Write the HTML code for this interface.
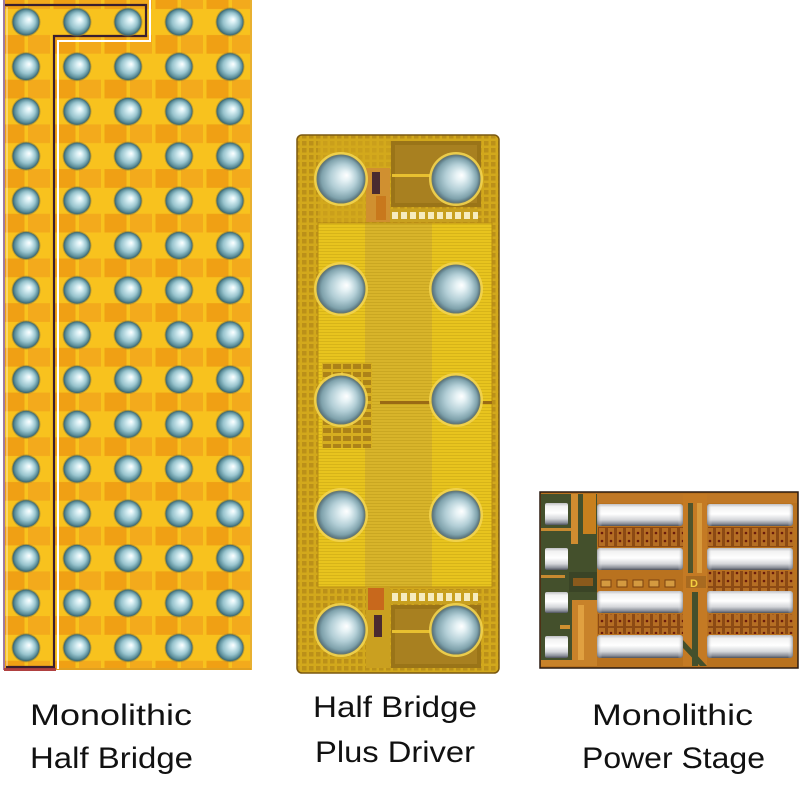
<!DOCTYPE html>
<html><head><meta charset="utf-8"><style>
html,body{margin:0;padding:0;background:#fff;}
svg{display:block;}
</style></head><body>
<svg width="800" height="803" viewBox="0 0 800 803" xmlns="http://www.w3.org/2000/svg">
<defs>
 <radialGradient id="bumpL" cx="0.5" cy="0.5" r="0.5" fx="0.62" fy="0.4">
  <stop offset="0" stop-color="#ffffff"/>
  <stop offset="0.22" stop-color="#d8eff4"/>
  <stop offset="0.6" stop-color="#98c4ce"/>
  <stop offset="0.85" stop-color="#5e909c"/>
  <stop offset="1" stop-color="#35606a"/>
 </radialGradient>
 <radialGradient id="bumpM" cx="0.5" cy="0.5" r="0.5" fx="0.62" fy="0.42">
  <stop offset="0" stop-color="#ffffff"/>
  <stop offset="0.2" stop-color="#e6f2f5"/>
  <stop offset="0.55" stop-color="#b2ced6"/>
  <stop offset="0.85" stop-color="#7fa2ac"/>
  <stop offset="1" stop-color="#56707a"/>
 </radialGradient>
 <pattern id="bumpsL" patternUnits="userSpaceOnUse" x="0.5" y="-0.35" width="51" height="44.7">
   <circle cx="25.5" cy="22.35" r="14.5" fill="#8a7a3a" opacity="0.55"/>
   <circle cx="25.5" cy="22.35" r="13.5" fill="url(#bumpL)"/>
 </pattern>
 <pattern id="bandL" patternUnits="userSpaceOnUse" x="0.5" y="22" width="51" height="44.7">
   <rect x="2" y="13" width="22" height="18.7" fill="#f0a014"/>
   <rect x="27.5" y="13" width="22" height="18.7" fill="#f3aa1c"/>
 </pattern>
 <pattern id="frameM" patternUnits="userSpaceOnUse" x="0" y="0" width="7" height="7">
   <rect width="7" height="7" fill="#d2a81c"/>
   <rect x="1" y="1" width="4.5" height="4.5" fill="#a87c16" opacity="0.55"/>
 </pattern>
 <pattern id="linesM" patternUnits="userSpaceOnUse" x="0" y="0" width="6" height="3">
   <rect y="2" width="6" height="1" fill="#8a6a00" opacity="0.18"/>
 </pattern>
 <pattern id="gridM" patternUnits="userSpaceOnUse" x="322" y="363" width="10" height="8">
   <rect width="10" height="8" fill="#d6ae20"/>
   <rect x="1" y="1" width="8" height="5" fill="#9a7014" opacity="0.7"/>
 </pattern>
 <linearGradient id="bar" x1="0" y1="0" x2="0" y2="1">
  <stop offset="0" stop-color="#c0c0c4"/>
  <stop offset="0.15" stop-color="#f2f2f2"/>
  <stop offset="0.45" stop-color="#ffffff"/>
  <stop offset="0.72" stop-color="#d4d6da"/>
  <stop offset="0.9" stop-color="#8a8e98"/>
  <stop offset="1" stop-color="#4e525c"/>
 </linearGradient>
 <linearGradient id="barH" x1="0" y1="0" x2="1" y2="0">
  <stop offset="0" stop-color="#6a6e78" stop-opacity="0.6"/>
  <stop offset="0.06" stop-color="#ffffff" stop-opacity="0"/>
  <stop offset="0.94" stop-color="#ffffff" stop-opacity="0"/>
  <stop offset="1" stop-color="#6a6e78" stop-opacity="0.6"/>
 </linearGradient>
 <pattern id="fing" patternUnits="userSpaceOnUse" x="598" y="527" width="9" height="20">
   <rect width="9" height="20" fill="#8c4a14"/>
   <rect x="1" y="1" width="6" height="18" fill="#b56e24"/>
   <circle cx="4" cy="6" r="1.3" fill="#6a1a0c"/>
   <circle cx="4" cy="14" r="1.3" fill="#6a1a0c"/>
 </pattern>
</defs>

<rect width="800" height="803" fill="#ffffff"/>

<!-- ============ LEFT CHIP ============ -->
<rect x="4" y="0" width="247" height="670" fill="#f8c21e"/>
<rect x="4" y="0" width="247" height="670" fill="url(#bandL)"/>
<!-- edges -->
<rect x="3" y="0" width="2" height="670" fill="#a07aa0"/>
<rect x="250" y="0" width="2" height="670" fill="#e8b030"/>
<rect x="4" y="668" width="52" height="3" fill="#b04040"/>
<rect x="56" y="668" width="195" height="2" fill="#e0a020"/>
<!-- dark L-shaped separator -->
<path d="M5 5 H146 V36 H54 V667 H6" fill="none" stroke="#3a1e2e" stroke-width="2.2"/>
<path d="M58 669 V41 H150 V0" fill="none" stroke="#ffffff" stroke-width="2"/>
<path d="M7 7 V666" fill="none" stroke="#ffffff" stroke-width="1" opacity="0.7"/>
<!-- bumps -->
<rect x="0" y="0" width="252" height="672" fill="url(#bumpsL)"/>

<!-- ============ MIDDLE CHIP ============ -->
<rect x="297" y="135" width="202" height="538" rx="5" fill="url(#frameM)" stroke="#7a5810" stroke-width="1.5"/>
<!-- inner panel -->
<rect x="318" y="223" width="174" height="364" fill="#e8c41e"/>
<rect x="365" y="223" width="67" height="364" fill="#d8b42a"/>
<rect x="318" y="223" width="174" height="364" fill="url(#linesM)"/>
<rect x="318" y="223" width="174" height="364" fill="none" stroke="#b88c14" stroke-width="1"/>
<!-- top section -->
<rect x="318" y="140" width="72" height="82" fill="#d4aa1c" opacity="0.6"/>
<rect x="391" y="141" width="90" height="66" fill="#9a7418"/>
<rect x="395" y="145" width="82" height="58" fill="#a88020"/>
<rect x="392" y="174" width="38" height="3" fill="#e8c030"/>
<rect x="366" y="168" width="24" height="54" fill="#d09030"/>
<rect x="372" y="172" width="8" height="22" fill="#4a2a30"/>
<rect x="376" y="196" width="10" height="24" fill="#c8781c"/>
<rect x="390" y="209" width="88" height="13" fill="#c8a020"/>
<g fill="#f6ecc0">
 <rect x="392" y="212" width="6" height="7"/><rect x="401" y="212" width="6" height="7"/>
 <rect x="410" y="212" width="6" height="7"/><rect x="419" y="212" width="6" height="7"/>
 <rect x="428" y="212" width="6" height="7"/><rect x="437" y="212" width="6" height="7"/>
 <rect x="446" y="212" width="6" height="7"/><rect x="455" y="212" width="6" height="7"/>
 <rect x="464" y="212" width="6" height="7"/><rect x="473" y="212" width="5" height="7"/>
</g>
<!-- bottom section -->
<rect x="391" y="605" width="90" height="63" fill="#9a7418"/>
<rect x="395" y="609" width="82" height="55" fill="#a88020"/>
<rect x="392" y="630" width="38" height="3" fill="#e8c030"/>
<rect x="366" y="587" width="24" height="81" fill="#caa020"/>
<rect x="368" y="588" width="16" height="22" fill="#c8681c"/>
<rect x="374" y="615" width="8" height="22" fill="#4a2a30"/>
<rect x="390" y="590" width="88" height="14" fill="#c8a020"/>
<g fill="#f6ecc0">
 <rect x="392" y="593" width="6" height="8"/><rect x="401" y="593" width="6" height="8"/>
 <rect x="410" y="593" width="6" height="8"/><rect x="419" y="593" width="6" height="8"/>
 <rect x="428" y="593" width="6" height="8"/><rect x="437" y="593" width="6" height="8"/>
 <rect x="446" y="593" width="6" height="8"/><rect x="455" y="593" width="6" height="8"/>
 <rect x="464" y="593" width="6" height="8"/><rect x="473" y="593" width="5" height="8"/>
</g>
<!-- grid block near mid-left bump -->
<rect x="322" y="363" width="50" height="85" fill="url(#gridM)"/>
<rect x="380" y="401" width="52" height="3" fill="#9a6a14"/>
<rect x="480" y="401" width="12" height="3" fill="#9a6a14"/>
<!-- bump halos and bumps -->
<g fill="#f2d450" opacity="0.9">
 <circle cx="341" cy="179" r="27"/><circle cx="456" cy="179" r="27"/>
 <circle cx="341" cy="289" r="27"/><circle cx="456" cy="289" r="27"/>
 <circle cx="341" cy="400" r="27"/><circle cx="456" cy="400" r="27"/>
 <circle cx="341" cy="515" r="27"/><circle cx="456" cy="515" r="27"/>
 <circle cx="341" cy="630" r="27"/><circle cx="456" cy="630" r="27"/>
</g>
<g fill="url(#bumpM)" stroke="#6a7a70" stroke-width="1">
 <circle cx="341" cy="179" r="24"/><circle cx="456" cy="179" r="24"/>
 <circle cx="341" cy="289" r="24"/><circle cx="456" cy="289" r="24"/>
 <circle cx="341" cy="400" r="24"/><circle cx="456" cy="400" r="24"/>
 <circle cx="341" cy="515" r="24"/><circle cx="456" cy="515" r="24"/>
 <circle cx="341" cy="630" r="24"/><circle cx="456" cy="630" r="24"/>
</g>

<!-- ============ RIGHT CHIP ============ -->
<rect x="540" y="492" width="258" height="176" fill="#b9721f" stroke="#2a1a10" stroke-width="1.5"/>
<rect x="541" y="494" width="256" height="9" fill="#c07826"/>
<!-- left green control area -->
<rect x="541" y="494" width="56" height="172" fill="#44502c"/>
<rect x="571" y="494" width="7" height="50" fill="#d08c30"/>
<rect x="583" y="494" width="13" height="40" fill="#c8801e"/>
<rect x="569" y="572" width="28" height="20" fill="#3a4426"/>
<rect x="541" y="528" width="30" height="3" fill="#c88a30"/>
<rect x="541" y="575" width="24" height="3" fill="#c88a30"/>
<rect x="572" y="600" width="25" height="66" fill="#c8822a"/>
<rect x="578" y="605" width="6" height="58" fill="#e0a040"/>
<rect x="541" y="660" width="56" height="6" fill="#c8822a"/>
<rect x="560" y="625" width="10" height="4" fill="#d09030"/>
<rect x="573" y="578" width="20" height="8" fill="#8a5a1c"/>
<!-- middle vertical channel -->
<rect x="683" y="494" width="24" height="172" fill="#c47a24"/>
<rect x="688" y="503" width="5" height="70" fill="#50542c"/>
<rect x="697" y="503" width="5" height="70" fill="#d89a3c"/>
<rect x="686" y="576" width="20" height="12" fill="#a86a20"/>
<text x="690" y="587" font-family="Liberation Sans, sans-serif" font-size="11" font-weight="bold" fill="#f4d040">D</text>
<rect x="692" y="592" width="6" height="74" fill="#44502c"/>
<path d="M683 640 L707 666 L700 666 L683 648 Z" fill="#44502c"/>
<!-- fingers -->
<rect x="598" y="527" width="85" height="20" fill="url(#fing)"/>
<rect x="598" y="614" width="85" height="20" fill="url(#fing)"/>
<rect x="708" y="527" width="85" height="20" fill="url(#fing)"/>
<rect x="708" y="571" width="85" height="20" fill="url(#fing)"/>
<rect x="708" y="614" width="85" height="20" fill="url(#fing)"/>
<!-- small pads row -->
<g fill="#d49a40" stroke="#7a4210" stroke-width="1">
 <rect x="601" y="580" width="10" height="7"/><rect x="617" y="580" width="10" height="7"/>
 <rect x="633" y="580" width="10" height="7"/><rect x="649" y="580" width="10" height="7"/>
 <rect x="665" y="580" width="10" height="7"/>
</g>
<!-- bars -->
<g>
 <rect x="597" y="504" width="86" height="22" rx="3" fill="url(#bar)"/>
 <rect x="597" y="548" width="86" height="22" rx="3" fill="url(#bar)"/>
 <rect x="597" y="591" width="86" height="22" rx="3" fill="url(#bar)"/>
 <rect x="597" y="635" width="86" height="23" rx="3" fill="url(#bar)"/>
 <rect x="707" y="504" width="86" height="22" rx="3" fill="url(#bar)"/>
 <rect x="707" y="548" width="86" height="22" rx="3" fill="url(#bar)"/>
 <rect x="707" y="591" width="86" height="22" rx="3" fill="url(#bar)"/>
 <rect x="707" y="635" width="86" height="23" rx="3" fill="url(#bar)"/>
</g>
<g>
 <rect x="597" y="504" width="86" height="22" rx="3" fill="url(#barH)"/>
 <rect x="597" y="548" width="86" height="22" rx="3" fill="url(#barH)"/>
 <rect x="597" y="591" width="86" height="22" rx="3" fill="url(#barH)"/>
 <rect x="597" y="635" width="86" height="23" rx="3" fill="url(#barH)"/>
 <rect x="707" y="504" width="86" height="22" rx="3" fill="url(#barH)"/>
 <rect x="707" y="548" width="86" height="22" rx="3" fill="url(#barH)"/>
 <rect x="707" y="591" width="86" height="22" rx="3" fill="url(#barH)"/>
 <rect x="707" y="635" width="86" height="23" rx="3" fill="url(#barH)"/>
</g>
<!-- left small square pads -->
<g>
 <rect x="545" y="503" width="23" height="22" rx="2" fill="url(#bar)"/>
 <rect x="545" y="548" width="23" height="22" rx="2" fill="url(#bar)"/>
 <rect x="545" y="592" width="23" height="21" rx="2" fill="url(#bar)"/>
 <rect x="545" y="636" width="23" height="22" rx="2" fill="url(#bar)"/>
</g>

<!-- ============ LABELS ============ -->
<g font-family="Liberation Sans, Arial, sans-serif" font-size="30" fill="#111111" lengthAdjust="spacingAndGlyphs">
 <text x="30" y="725" textLength="162" lengthAdjust="spacingAndGlyphs">Monolithic</text>
 <text x="30" y="768" textLength="163" lengthAdjust="spacingAndGlyphs">Half Bridge</text>
 <text x="313" y="717" textLength="164" lengthAdjust="spacingAndGlyphs">Half Bridge</text>
 <text x="315" y="762" textLength="160" lengthAdjust="spacingAndGlyphs">Plus Driver</text>
 <text x="592" y="725" textLength="161" lengthAdjust="spacingAndGlyphs">Monolithic</text>
 <text x="582" y="768" textLength="183" lengthAdjust="spacingAndGlyphs">Power Stage</text>
</g>
</svg>
</body></html>
